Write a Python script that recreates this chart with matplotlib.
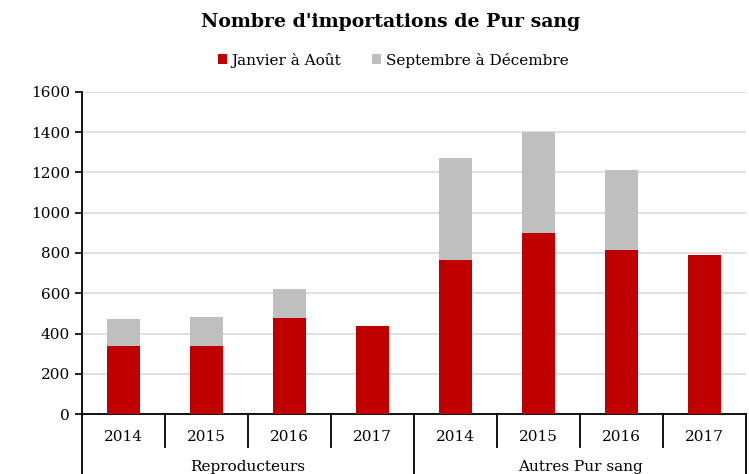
import matplotlib.pyplot as plt
import numpy as np

# Data
groups = ["Reproducteurs", "Autres Pur sang"]
years = ["2014", "2015", "2016", "2017"]
jan_aout = [340, 337, 478, 436, 764, 901, 813, 789]
sept_dec = [131, 147, 143, 0, 507, 498, 399, 0]
series_names = ["Janvier à Août", "Septembre à Décembre"]

red = "#C00000"
grey = "#BFBFBF"
plt.rcParams["font.family"] = ["DejaVu Serif"]

W, H = 749, 474
fig = plt.figure(figsize=(W / 100, H / 100), dpi=100)
ax = fig.add_axes([82 / W, 1 - 414.3 / H, 664 / W, 322.6 / H])

x = np.arange(len(jan_aout))
b1 = ax.bar(x, jan_aout, width=0.4, color=red, label=series_names[0], zorder=3)
b2 = ax.bar(x, sept_dec, width=0.4, bottom=jan_aout, color=grey,
            label=series_names[1], zorder=3)

ax.set_xlim(-0.5, len(x) - 0.5)
ax.set_ylim(0, 1600)
ax.set_yticks(range(0, 1601, 200))
ax.tick_params(axis="y", labelsize=11, length=5, width=1.2, color="black")
ax.set_xticks([])
ax.grid(axis="y", color="#DDDDDD", linewidth=1.3, zorder=0)
for s in ["top", "right"]:
    ax.spines[s].set_visible(False)
ax.spines["left"].set_linewidth(1.3)
ax.spines["bottom"].set_linewidth(1.3)

# Multi-level category axis
trans = ax.get_xaxis_transform()
for i in range(len(x) + 1):
    xb = i - 0.5
    low = -0.2 if i % 4 == 0 else -0.101
    ax.plot([xb, xb], [0, low], transform=trans, color="black",
            linewidth=1.3, clip_on=False)
for i, xi in enumerate(x):
    ax.text(xi, -0.07, years[i % 4], transform=trans, ha="center",
            va="center", fontsize=11)
for g, name in enumerate(groups):
    ax.text(g * 4 + 1.5, -0.163, name, transform=trans, ha="center",
            va="center", fontsize=11)

fig.text(391 / W, 1 - 22 / H, "Nombre d'importations de Pur sang",
         ha="center", va="center", fontsize=13.6, fontweight="bold")
fig.legend(handles=[b1, b2], loc="center", bbox_to_anchor=(393 / W, 1 - 60 / H),
           ncol=2, frameon=False, fontsize=11, handlelength=0.6,
           handleheight=0.6, handletextpad=0.3, columnspacing=2.0)

fig.savefig("out.png", dpi=100)
